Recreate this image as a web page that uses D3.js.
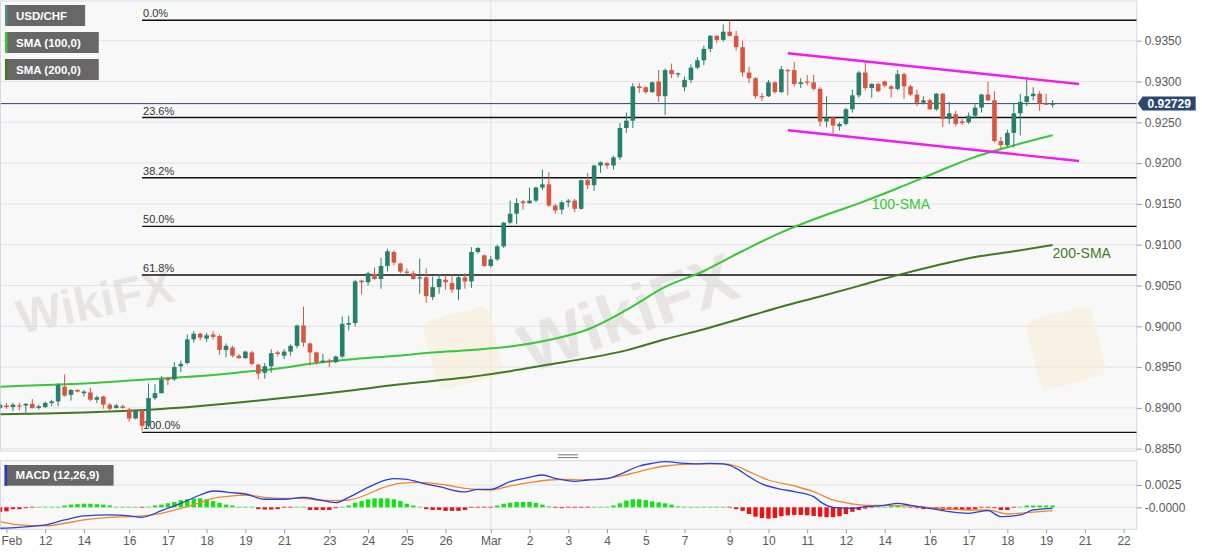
<!DOCTYPE html>
<html>
<head>
<meta charset="utf-8">
<script src="https://cdn.jsdelivr.net/npm/d3@7"></script>
<style>
  body { margin: 0; background: #fff; }
  svg { display: block; font-family: "Liberation Sans", Arial, sans-serif; }
</style>
</head>
<body>
<script>
// ---- data (4h candles, slot 0 = Feb 12 00:00) ----
const firstSlot = -7;

const opens = [
  0.8900, 0.8903, 0.8901, 0.8903, 0.8903, 0.8905, 0.8900,
  0.8901, 0.8906, 0.8908, 0.8926, 0.8916, 0.8922, 0.8918, 0.8919, 0.8910, 0.8914,
  0.8904, 0.8900, 0.8902, 0.8898, 0.8887, 0.8897, 0.8878, 0.8912, 0.8918, 0.8936,
  0.8935, 0.8951, 0.8955, 0.8984, 0.8991, 0.8985, 0.8990, 0.8988, 0.8971, 0.8974,
  0.8964, 0.8961, 0.8968, 0.8953, 0.8943, 0.8951, 0.8968, 0.8964, 0.8969, 0.8976,
  0.9001, 0.8979, 0.8968, 0.8956, 0.8958, 0.8956, 0.8963, 0.9002, 0.9004, 0.9056,
  0.9054, 0.9064, 0.9058, 0.9074, 0.9091, 0.9077, 0.9067, 0.9065, 0.9059, 0.9060,
  0.9036, 0.9048, 0.9057, 0.9053, 0.9045, 0.9060, 0.9055, 0.9091, 0.9087, 0.9074,
  0.9082, 0.9098, 0.9127, 0.9138, 0.9153, 0.9151, 0.9154, 0.9170, 0.9174, 0.9148,
  0.9143, 0.9152, 0.9154, 0.9144, 0.9179, 0.9173, 0.9197, 0.9200, 0.9197, 0.9207,
  0.9243, 0.9252, 0.9294, 0.9293, 0.9287, 0.9300, 0.9282, 0.9314, 0.9309, 0.9293,
  0.9302, 0.9317, 0.9326, 0.9340, 0.9356, 0.9351, 0.9361, 0.9356, 0.9342, 0.9311,
  0.9304, 0.9282, 0.9282, 0.9299, 0.9287, 0.9314, 0.9314, 0.9297, 0.9300, 0.9299,
  0.9291, 0.9251, 0.9256, 0.9245, 0.9248, 0.9266, 0.9283, 0.9311, 0.9292, 0.9297,
  0.9300, 0.9294, 0.9291, 0.9309, 0.9294, 0.9284, 0.9274, 0.9277, 0.9266, 0.9285,
  0.9254, 0.9260, 0.9251, 0.9250, 0.9258, 0.9268, 0.9284, 0.9277, 0.9227, 0.9222,
  0.9237, 0.9261, 0.9275, 0.9282, 0.9285, 0.9273, 0.9272
];
const highs = [
  0.8907, 0.8906, 0.8906, 0.8906, 0.8906, 0.8911, 0.8904,
  0.8908, 0.8910, 0.8930, 0.8941, 0.8923, 0.8923, 0.8922, 0.8925, 0.8915, 0.8915,
  0.8906, 0.8905, 0.8904, 0.8900, 0.8898, 0.8898, 0.8930, 0.8929, 0.8939, 0.8938,
  0.8956, 0.8958, 0.8990, 0.8994, 0.8992, 0.8992, 0.8994, 0.8990, 0.8979, 0.8976,
  0.8966, 0.8970, 0.8970, 0.8954, 0.8955, 0.8972, 0.8970, 0.8972, 0.8978, 0.9002,
  0.9024, 0.8980, 0.8969, 0.8966, 0.8960, 0.8964, 0.9012, 0.9013, 0.9057, 0.9057,
  0.9067, 0.9072, 0.9084, 0.9095, 0.9093, 0.9078, 0.9071, 0.9068, 0.9083, 0.9071,
  0.9061, 0.9064, 0.9063, 0.9063, 0.9063, 0.9065, 0.9097, 0.9097, 0.9088, 0.9086,
  0.9100, 0.9128, 0.9154, 0.9157, 0.9155, 0.9170, 0.9171, 0.9192, 0.9189, 0.9150,
  0.9154, 0.9156, 0.9156, 0.9180, 0.9188, 0.9198, 0.9202, 0.9201, 0.9209, 0.9249,
  0.9262, 0.9298, 0.9298, 0.9294, 0.9300, 0.9314, 0.9316, 0.9322, 0.9311, 0.9306,
  0.9321, 0.9330, 0.9344, 0.9357, 0.9357, 0.9370, 0.9375, 0.9362, 0.9350, 0.9318,
  0.9305, 0.9286, 0.9302, 0.9300, 0.9319, 0.9316, 0.9324, 0.9304, 0.9308, 0.9308,
  0.9293, 0.9282, 0.9257, 0.9250, 0.9268, 0.9290, 0.9313, 0.9325, 0.9298, 0.9299,
  0.9301, 0.9296, 0.9314, 0.9311, 0.9296, 0.9290, 0.9282, 0.9279, 0.9286, 0.9286,
  0.9275, 0.9264, 0.9254, 0.9262, 0.9272, 0.9285, 0.9300, 0.9288, 0.9232, 0.9241,
  0.9274, 0.9285, 0.9306, 0.9293, 0.9288, 0.9285, 0.9277
];
const lows = [
  0.8898, 0.8899, 0.8896, 0.8897, 0.8894, 0.8899, 0.8898,
  0.8900, 0.8902, 0.8902, 0.8914, 0.8909, 0.8919, 0.8914, 0.8908, 0.8906, 0.8899,
  0.8897, 0.8899, 0.8899, 0.8883, 0.8886, 0.8872, 0.8876, 0.8910, 0.8918, 0.8928,
  0.8933, 0.8944, 0.8953, 0.8980, 0.8983, 0.8981, 0.8984, 0.8965, 0.8962, 0.8962,
  0.8960, 0.8960, 0.8952, 0.8935, 0.8936, 0.8943, 0.8963, 0.8960, 0.8964, 0.8973,
  0.8975, 0.8952, 0.8953, 0.8955, 0.8950, 0.8955, 0.8961, 0.8995, 0.9000, 0.9039,
  0.9050, 0.9057, 0.9046, 0.9067, 0.9075, 0.9065, 0.9064, 0.9057, 0.9040, 0.9029,
  0.9032, 0.9040, 0.9045, 0.9041, 0.9032, 0.9046, 0.9047, 0.9089, 0.9073, 0.9072,
  0.9080, 0.9096, 0.9125, 0.9125, 0.9143, 0.9150, 0.9152, 0.9167, 0.9146, 0.9138,
  0.9137, 0.9146, 0.9140, 0.9143, 0.9168, 0.9166, 0.9188, 0.9193, 0.9192, 0.9204,
  0.9237, 0.9243, 0.9286, 0.9285, 0.9286, 0.9275, 0.9259, 0.9304, 0.9305, 0.9288,
  0.9298, 0.9315, 0.9320, 0.9336, 0.9347, 0.9349, 0.9355, 0.9338, 0.9306, 0.9298,
  0.9279, 0.9276, 0.9281, 0.9285, 0.9286, 0.9283, 0.9294, 0.9292, 0.9295, 0.9289,
  0.9245, 0.9244, 0.9236, 0.9240, 0.9246, 0.9262, 0.9280, 0.9289, 0.9280, 0.9287,
  0.9293, 0.9280, 0.9289, 0.9279, 0.9282, 0.9270, 0.9272, 0.9265, 0.9264, 0.9244,
  0.9248, 0.9245, 0.9247, 0.9248, 0.9255, 0.9262, 0.9276, 0.9225, 0.9218, 0.9220,
  0.9219, 0.9234, 0.9270, 0.9277, 0.9264, 0.9271, 0.9268
];
const closes = [
  0.8904, 0.8901, 0.8904, 0.8902, 0.8905, 0.8900, 0.8902,
  0.8906, 0.8908, 0.8928, 0.8915, 0.8922, 0.8920, 0.8920, 0.8910, 0.8913, 0.8904,
  0.8899, 0.8903, 0.8900, 0.8887, 0.8897, 0.8878, 0.8912, 0.8918, 0.8935, 0.8934,
  0.8950, 0.8954, 0.8984, 0.8991, 0.8986, 0.8989, 0.8987, 0.8971, 0.8976, 0.8964,
  0.8961, 0.8969, 0.8954, 0.8942, 0.8951, 0.8967, 0.8966, 0.8969, 0.8976, 0.9001,
  0.8980, 0.8968, 0.8956, 0.8958, 0.8956, 0.8963, 0.9003, 0.9004, 0.9055, 0.9054,
  0.9065, 0.9058, 0.9074, 0.9092, 0.9078, 0.9067, 0.9066, 0.9058, 0.9060, 0.9037,
  0.9048, 0.9058, 0.9054, 0.9045, 0.9060, 0.9055, 0.9091, 0.9096, 0.9074, 0.9082,
  0.9098, 0.9127, 0.9138, 0.9151, 0.9151, 0.9154, 0.9170, 0.9174, 0.9148, 0.9142,
  0.9152, 0.9154, 0.9144, 0.9179, 0.9173, 0.9197, 0.9201, 0.9197, 0.9207, 0.9243,
  0.9252, 0.9294, 0.9292, 0.9287, 0.9299, 0.9282, 0.9314, 0.9309, 0.9310, 0.9302,
  0.9317, 0.9326, 0.9340, 0.9356, 0.9351, 0.9361, 0.9356, 0.9342, 0.9311, 0.9304,
  0.9282, 0.9281, 0.9299, 0.9287, 0.9315, 0.9313, 0.9297, 0.9299, 0.9299, 0.9291,
  0.9251, 0.9256, 0.9246, 0.9248, 0.9266, 0.9283, 0.9311, 0.9292, 0.9297, 0.9288,
  0.9295, 0.9291, 0.9309, 0.9294, 0.9284, 0.9274, 0.9277, 0.9266, 0.9285, 0.9254,
  0.9261, 0.9248, 0.9249, 0.9258, 0.9268, 0.9284, 0.9277, 0.9227, 0.9222, 0.9237,
  0.9261, 0.9275, 0.9282, 0.9285, 0.9273, 0.9272, 0.92729
];

// moving averages: [slot, price]
const sma100 = [[-7, 0.89260], [0, 0.89281], [6, 0.89299], [12, 0.89330], [18, 0.89360],
  [24, 0.89391], [30, 0.89434], [36, 0.89483], [42, 0.89550], [48, 0.89599], [54, 0.89636],
  [60, 0.89679], [66, 0.89710], [72, 0.89752], [78, 0.89832], [84, 0.89961], [90, 0.90200],
  [96, 0.90482], [102, 0.90678], [108, 0.90923], [114, 0.91151], [120, 0.91339], [126, 0.91507],
  [132, 0.91692], [138, 0.91888], [144, 0.92076], [150, 0.92217], [156, 0.92341]];
const sma200 = [[-7, 0.88922], [0, 0.88931], [6, 0.88944], [12, 0.88962], [18, 0.88987],
  [24, 0.89023], [30, 0.89067], [36, 0.89115], [42, 0.89164], [48, 0.89219], [54, 0.89280],
  [60, 0.89330], [66, 0.89382], [72, 0.89450], [78, 0.89531], [84, 0.89610], [90, 0.89705],
  [96, 0.89842], [102, 0.89963], [108, 0.90102], [114, 0.90240], [120, 0.90365], [126, 0.90495],
  [132, 0.90627], [138, 0.90745], [144, 0.90849], [150, 0.90919], [156, 0.90996]];

// MACD (12,26,9): [slot, value]
const macdLine = [[-7, -0.00235], [-4, -0.00224], [0, -0.00198], [3, -0.00142], [6, -0.00097],
  [10, -0.00086], [13, -0.00097], [15, -0.00112], [18, -0.00037], [21, 0.00045], [24, 0.00138],
  [26, 0.00183], [29, 0.00164], [31, 0.00149], [34, 0.00090], [37, 0.00090], [40, 0.00112],
  [42, 0.00090], [45, 0.00052], [47, 0.00112], [50, 0.00224], [52, 0.00288], [54, 0.00321],
  [56, 0.00314], [58, 0.00277], [61, 0.00232], [65, 0.00172], [67, 0.00202], [69, 0.00202],
  [72, 0.00288], [75, 0.00336], [77, 0.00362], [79, 0.00325], [82, 0.00291], [84, 0.00306],
  [87, 0.00321], [89, 0.00370], [92, 0.00463], [94, 0.00493], [96, 0.00512], [99, 0.00493],
  [101, 0.00486], [103, 0.00493], [105, 0.00486], [107, 0.00437], [109, 0.00344], [111, 0.00262],
  [114, 0.00202], [116, 0.00176], [119, 0.00120], [120, 0.00064], [122, 0.00000], [125, -0.00011],
  [127, 0.00007], [130, 0.00022], [132, 0.00045], [134, 0.00022], [137, -0.00011], [140, -0.00049],
  [143, -0.00067], [146, -0.00037], [148, -0.00105], [151, -0.00086], [153, -0.00030], [156, -0.00011]];
const signalLine = [[-7, -0.00161], [-4, -0.00198], [0, -0.00209], [3, -0.00179], [6, -0.00142],
  [10, -0.00112], [13, -0.00105], [15, -0.00097], [18, -0.00067], [21, -0.00011], [24, 0.00052],
  [26, 0.00101], [29, 0.00127], [31, 0.00138], [34, 0.00112], [37, 0.00101], [40, 0.00101],
  [42, 0.00082], [45, 0.00075], [47, 0.00082], [50, 0.00149], [52, 0.00213], [55, 0.00269],
  [58, 0.00280], [62, 0.00250], [65, 0.00213], [69, 0.00194], [72, 0.00239], [76, 0.00288],
  [78, 0.00306], [81, 0.00314], [83, 0.00306], [85, 0.00314], [88, 0.00336], [92, 0.00400],
  [94, 0.00437], [96, 0.00463], [99, 0.00482], [101, 0.00486], [105, 0.00486], [107, 0.00463],
  [109, 0.00400], [112, 0.00306], [116, 0.00239], [119, 0.00176], [122, 0.00082], [125, 0.00037],
  [127, 0.00022], [131, 0.00022], [134, 0.00015], [137, -0.00004], [140, -0.00019], [143, -0.00030],
  [146, -0.00030], [149, -0.00075], [152, -0.00060], [156, -0.00037]];
const histogram = [
  -0.0005, -0.00045, -0.0002, -0.0002, -0.0001, -0.00005, 0.00003,
  0.00003, 0.00003, 0.00005, 0.0002, 0.0003, 0.00035, 0.0004, 0.0004, 0.00035, 0.0003,
  0.0002, 0.00005, 0.00003, 0.00003, 0.00003, -0.00005, 0.00005, 0.0002, 0.0003, 0.00045,
  0.0006, 0.0008, 0.0009, 0.001, 0.001, 0.0009, 0.0007, 0.0005, 0.0003, 0.0002,
  0.00005, 0.00003, 0.00003, -0.0002, -0.00025, -0.00025, -0.0002, -0.00005, -0.00005, 0.00003,
  0.00003, -0.0003, -0.0003, -0.0003, -0.0003, -0.0001, 0.00003, 0.0002, 0.0005, 0.0007,
  0.0009, 0.001, 0.001, 0.001, 0.0009, 0.0007, 0.0004, 0.0002, 0.00003, -0.0002,
  -0.0003, -0.0003, -0.0004, -0.0004, -0.0004, -0.0003, -0.00005, -0.00005, -0.00005, -0.00005,
  0.0002, 0.0004, 0.0005, 0.0006, 0.0006, 0.0006, 0.0005, 0.0003, 0.0001, -0.00005,
  -0.0001, -0.00005, -0.00005, -0.00005, -0.00005, 0.00003, 0.00003, 0.00003, 0.0002, 0.00045,
  0.00075, 0.0009, 0.0009, 0.0008, 0.00065, 0.00055, 0.00045, 0.0003, 0.0001, 0.00003,
  0.00003, 0.00003, 0.00003, 0.00003, 0.00003, 0.00003, -0.00005, -0.0002, -0.0004, -0.00075,
  -0.00105, -0.0012, -0.00127, -0.0012, -0.001, -0.0009, -0.00085, -0.00085, -0.0009, -0.00097,
  -0.00105, -0.0011, -0.0011, -0.001, -0.00075, -0.0005, -0.0003, -0.00015, -0.00005, 0.00003,
  0.00003, 0.00015, 0.00015, 0.00005, -0.00005, -0.0001, -0.0002, -0.0002, -0.00025, -0.0003,
  -0.0003, -0.0003, -0.0003, -0.0003, -0.0002, -0.00005, -0.00005, -0.0001, -0.0003, -0.0003,
  -0.00005, 0.00005, 0.0002, 0.0002, 0.0002, 0.0002, 0.0002
];

// axis labels: [slot, text]
const dayTicks = [[-6, 'Feb'], [0, '12'], [6, '14'], [13, '16'], [19, '17'], [25, '18'], [31, '19'],
  [37, '21'], [44, '23'], [50, '24'], [56, '25'], [62, '26'], [69, 'Mar'], [75, '2'], [81, '3'],
  [87, '4'], [93, '5'], [99, '7'], [106, '9'], [112, '10'], [118, '11'], [124, '12'], [130, '14'],
  [137, '16'], [143, '17'], [149, '18'], [155, '19'], [161, '21'], [167, '22']];
const priceTicks = [0.8850, 0.8900, 0.8950, 0.9000, 0.9050, 0.9100, 0.9150, 0.9200, 0.9250, 0.9300, 0.9350];
const macdTicks = [0.0025, 0];
const monthStarts = [69];

// fibonacci retracement, channel, last price
const fibHigh = 0.9375;
const fibLow = 0.8870;
const fibStartSlot = 15;
const fibLevels = [0, 0.236, 0.382, 0.5, 0.618, 1];
const channelUpper = [[115, 0.93346], [160.1, 0.92969]];
const channelLower = [[115, 0.92402], [160.1, 0.92026]];
const lastPrice = 0.92729;
const legendLabels = ['USD/CHF', 'SMA (100,0)', 'SMA (200,0)'];
const smaNotes = [['100-SMA', 128, 0.9150], ['200-SMA', 156, 0.9090]];

// ---- layout ----
const width = 1207;
const height = 555;
const plotL = 0.5, plotR = 1136.7;
const mainTop = 1, mainBottom = 451;
const macdTop = 460.7, macdBottom = 529.3;

const upColor = '#26806b';
const downColor = '#d9553e';
const sma100Color = '#35c933';
const sma200Color = '#3f7a1e';
const legendAccents = ['#4f8f8a', '#35c933', '#3f7a1e'];

const svg = d3.select('body')
  .append('svg')
  .attr('width', width)
  .attr('height', height);

const x = d3.scaleLinear().domain([0, 167]).range([45.2, 1123.6]);
const y = d3.scaleLinear().domain([0.8850, 0.9350]).range([448.7, 40.7]);
const ym = d3.scaleLinear().domain([0, 0.0025]).range([507.3, 485]);

const defs = svg.append('defs');
defs.append('clipPath').attr('id', 'clip-main')
  .append('rect').attr('x', plotL).attr('y', mainTop).attr('width', plotR - plotL).attr('height', mainBottom - mainTop);
defs.append('clipPath').attr('id', 'clip-macd')
  .append('rect').attr('x', plotL).attr('y', macdTop).attr('width', plotR - plotL).attr('height', macdBottom - macdTop);

// panel backgrounds
[[mainTop, mainBottom], [macdTop, macdBottom]].forEach(([t, b]) => {
  svg.append('rect')
    .attr('x', plotL).attr('y', t)
    .attr('width', plotR - plotL).attr('height', b - t)
    .attr('fill', '#f8f8f9')
    .attr('stroke', '#d5d8e1');
});

// grid
const grid = svg.append('g').attr('stroke', '#e2e2e4').attr('stroke-width', 1);
grid.selectAll('.hg').data(priceTicks).enter().append('line')
  .attr('x1', plotL).attr('x2', plotR)
  .attr('y1', d => y(d)).attr('y2', d => y(d));
grid.selectAll('.mg').data(macdTicks).enter().append('line')
  .attr('x1', plotL).attr('x2', plotR)
  .attr('y1', d => ym(d)).attr('y2', d => ym(d));
monthStarts.forEach(s => {
  grid.append('line').attr('x1', x(s)).attr('x2', x(s)).attr('y1', mainTop).attr('y2', mainBottom);
  grid.append('line').attr('x1', x(s)).attr('x2', x(s)).attr('y1', macdTop).attr('y2', macdBottom);
});

// faint watermarks
const wm = svg.append('g').attr('pointer-events', 'none');
[[96, 305, -12, 48], [630, 318, -20, 68]].forEach(([cx, cy, r, fs]) => {
  wm.append('text')
    .attr('transform', `translate(${cx},${cy}) rotate(${r})`)
    .attr('text-anchor', 'middle')
    .attr('dominant-baseline', 'middle')
    .attr('font-size', fs)
    .attr('font-weight', 'bold')
    .attr('fill', '#d3d0cc')
    .attr('opacity', 0.45)
    .text('WikiFX');
});
[[463, 348], [1066, 348]].forEach(([cx, cy]) => {
  wm.append('rect')
    .attr('transform', `translate(${cx},${cy}) rotate(-14)`)
    .attr('x', -34).attr('y', -36).attr('width', 68).attr('height', 72).attr('rx', 10)
    .attr('fill', '#f6ebc9').attr('opacity', 0.45);
});

// ---- main panel ----
const main = svg.append('g').attr('clip-path', 'url(#clip-main)');

// fibonacci levels
const fibs = fibLevels.map(l => ({ l, p: fibHigh - (fibHigh - fibLow) * l }));
main.selectAll('.fib').data(fibs).enter().append('line')
  .attr('x1', x(fibStartSlot)).attr('x2', plotR)
  .attr('y1', d => y(d.p)).attr('y2', d => y(d.p))
  .attr('stroke', '#111').attr('stroke-width', 1.4);
main.selectAll('.fibtxt').data(fibs).enter().append('text')
  .attr('x', x(fibStartSlot) + 1)
  .attr('y', d => y(d.p) - 3)
  .attr('font-size', 11)
  .attr('fill', '#333')
  .text(d => (d.l * 100).toFixed(1) + '%');

// last price line
main.append('line')
  .attr('x1', plotL).attr('x2', plotR)
  .attr('y1', y(lastPrice)).attr('y2', y(lastPrice))
  .attr('stroke', '#2d4567').attr('stroke-width', 1);

// moving averages
const priceLine = d3.line().x(d => x(d[0])).y(d => y(d[1])).curve(d3.curveMonotoneX);
main.append('path').attr('d', priceLine(sma200))
  .attr('fill', 'none').attr('stroke', sma200Color).attr('stroke-width', 2);
main.append('path').attr('d', priceLine(sma100))
  .attr('fill', 'none').attr('stroke', sma100Color).attr('stroke-width', 2);

// candles
const candles = opens.map((o, i) => ({
  slot: firstSlot + i, o, h: highs[i], l: lows[i], c: closes[i]
}));
const cg = main.append('g');
cg.selectAll('.wick').data(candles).enter().append('line')
  .attr('x1', d => x(d.slot)).attr('x2', d => x(d.slot))
  .attr('y1', d => y(d.h)).attr('y2', d => y(d.l))
  .attr('stroke', d => d.c >= d.o ? upColor : downColor)
  .attr('stroke-width', 1);
cg.selectAll('.body').data(candles).enter().append('rect')
  .attr('x', d => x(d.slot) - 2.3)
  .attr('width', 4.6)
  .attr('y', d => Math.min(y(d.o), y(d.c)))
  .attr('height', d => Math.max(1.2, Math.abs(y(d.o) - y(d.c))))
  .attr('fill', d => d.c >= d.o ? upColor : downColor);

// channel
[channelUpper, channelLower].forEach(seg => {
  main.append('line')
    .attr('x1', x(seg[0][0])).attr('y1', y(seg[0][1]))
    .attr('x2', x(seg[1][0])).attr('y2', y(seg[1][1]))
    .attr('stroke', '#f01df0').attr('stroke-width', 2.4);
});

// SMA notes
main.selectAll('.note').data(smaNotes).enter().append('text')
  .attr('x', d => x(d[1]))
  .attr('y', d => y(d[2]))
  .attr('dy', '0.35em')
  .attr('font-size', 14)
  .attr('fill', (d, i) => i === 0 ? sma100Color : sma200Color)
  .text(d => d[0]);

// legend boxes
legendLabels.forEach((label, i) => {
  const g = svg.append('g').attr('transform', `translate(5, ${5 + i * 27})`);
  const box = g.append('rect').attr('height', 21).attr('fill', '#676767');
  g.append('rect').attr('width', 2.5).attr('height', 21).attr('fill', legendAccents[i]);
  const t = g.append('text')
    .attr('x', 11).attr('y', 10.5).attr('dy', '0.35em')
    .attr('font-size', 11.5).attr('font-weight', 'bold').attr('fill', '#fff')
    .text(label);
  box.attr('width', t.node().getComputedTextLength() + 29);
});

// ---- MACD panel ----
const macdG = svg.append('g').attr('clip-path', 'url(#clip-macd)');
const hist = histogram.map((v, i) => ({ slot: firstSlot + i, v }));
macdG.selectAll('.hbar').data(hist).enter().append('rect')
  .attr('x', d => x(d.slot) - 2.2)
  .attr('width', 4.4)
  .attr('y', d => Math.abs(d.v) <= 0.00005 ? ym(0) - 0.75 : Math.min(ym(0), ym(d.v)))
  .attr('height', d => Math.abs(d.v) <= 0.00005 ? 1.5 : Math.abs(ym(d.v) - ym(0)))
  .attr('fill', d => {
    const small = Math.abs(d.v) <= 0.00005;
    if (d.v >= 0) return small ? '#8ee88e' : '#16e016';
    return small ? '#ee7a7a' : '#ee1111';
  });
const macdPath = d3.line().x(d => x(d[0])).y(d => ym(d[1])).curve(d3.curveMonotoneX);
macdG.append('path').attr('d', macdPath(signalLine))
  .attr('fill', 'none').attr('stroke', '#f0862e').attr('stroke-width', 1.3);
macdG.append('path').attr('d', macdPath(macdLine))
  .attr('fill', 'none').attr('stroke', '#2a3fd6').attr('stroke-width', 1.3);

const mg = svg.append('g').attr('transform', 'translate(4.6, 465)');
mg.append('rect').attr('width', 109).attr('height', 20.7).attr('fill', '#676767');
mg.append('rect').attr('width', 2.5).attr('height', 20.7).attr('fill', '#2538c8');
mg.append('text')
  .attr('x', 11).attr('y', 10.4).attr('dy', '0.35em')
  .attr('font-size', 11.5).attr('font-weight', 'bold').attr('fill', '#fff')
  .text('MACD (12,26,9)');

// splitter handle
[454.8, 457.6].forEach(yy => {
  svg.append('line').attr('x1', 558).attr('x2', 578).attr('y1', yy).attr('y2', yy)
    .attr('stroke', '#777').attr('stroke-width', 1);
});

// ---- axes ----
const priceAxis = svg.append('g')
  .attr('transform', `translate(${plotR},0)`)
  .call(d3.axisRight(y).tickValues(priceTicks).tickSize(5).tickPadding(3).tickFormat(d3.format('.4f')));
const macdAxis = svg.append('g')
  .attr('transform', `translate(${plotR},0)`)
  .call(d3.axisRight(ym).tickValues(macdTicks).tickSize(5).tickPadding(3)
    .tickFormat(d => d === 0 ? '-0.0000' : d3.format('.4f')(d)));
const timeAxis = svg.append('g')
  .attr('transform', `translate(0,${macdBottom})`)
  .call(d3.axisBottom(x).tickValues(dayTicks.map(d => d[0])).tickSize(4).tickPadding(3)
    .tickFormat((d, i) => dayTicks[i][1]));

[priceAxis, macdAxis, timeAxis].forEach(a => {
  a.select('.domain').remove();
  a.selectAll('line').attr('stroke', '#9a9a9a');
  a.selectAll('text')
    .attr('fill', '#5a5a5a')
    .attr('font-size', 12)
    .attr('font-family', '"Liberation Sans", Arial, sans-serif');
});
timeAxis.selectAll('.tick')
  .filter(d => x(d) < 12)
  .select('text')
  .attr('text-anchor', 'start')
  .attr('x', d => 1 - x(d));

// last price tag
const tag = svg.append('g').attr('transform', `translate(${plotR + 1},${y(lastPrice)})`);
tag.append('path').attr('d', 'M0,0 L5,-7 L58,-7 L58,7 L5,7 Z').attr('fill', '#2b4770');
tag.append('text')
  .attr('x', 31.5).attr('dy', '0.36em')
  .attr('text-anchor', 'middle')
  .attr('font-size', 12).attr('font-weight', 'bold').attr('fill', '#fff')
  .text(d3.format('.5f')(lastPrice));
</script>
</body>
</html>
